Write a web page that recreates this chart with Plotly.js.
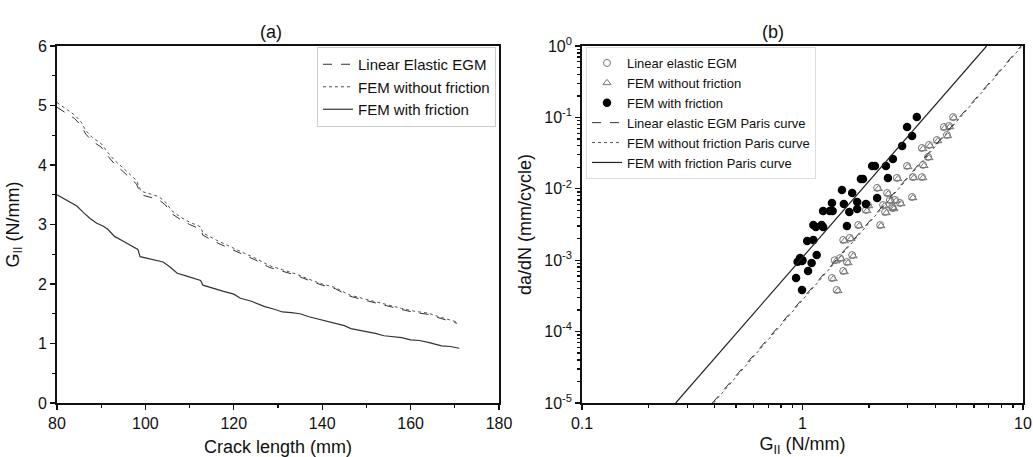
<!DOCTYPE html>
<html><head><meta charset="utf-8">
<script src="https://cdn.plot.ly/plotly-3.0.1.min.js"></script>
<style>html,body{margin:0;padding:0;background:#fff}#chart{width:1033px;height:457px}</style>
</head><body><div id="chart"></div>
<script>
// ---- Panel (a): G_II vs crack length ----
const crackLen = [80,82,84,85.5,86.5,88,90,91.5,93,94.5,96,98,99,101,103,104.5,106,108,110,112.5,113,116,119,122,125,128,131,134,137,140,143,146,149,152,155,158,161,164,166,168,170.5];
const gEGM =     [4.97,4.88,4.78,4.66,4.52,4.40,4.30,4.15,4.02,3.92,3.82,3.68,3.50,3.46,3.42,3.33,3.18,3.08,3.00,2.92,2.82,2.70,2.60,2.50,2.40,2.28,2.22,2.15,2.06,1.98,1.92,1.80,1.74,1.68,1.62,1.57,1.52,1.49,1.44,1.40,1.34];
const gFEMnoFr = [5.05,4.95,4.84,4.72,4.58,4.46,4.36,4.21,4.08,3.98,3.88,3.74,3.56,3.52,3.47,3.38,3.23,3.12,3.04,2.96,2.86,2.74,2.63,2.53,2.43,2.31,2.24,2.17,2.08,2.00,1.94,1.82,1.76,1.70,1.64,1.59,1.54,1.51,1.46,1.41,1.36];
const crackLenFr = [80,82,84.5,86,87.5,89,90.5,91.5,92,93,95,97,98.3,98.8,100,102,104,105.5,107.2,109,111,112.5,113,115,117.5,120,121.5,124,127,129,131,133,135,137,139,141,143,145,146.5,148,150,152,154,156,158,160,162,164,165.5,167,169,171];
const gFEMFr = [3.50,3.42,3.31,3.20,3.10,3.02,2.97,2.92,2.88,2.80,2.72,2.64,2.58,2.46,2.44,2.41,2.37,2.29,2.18,2.14,2.10,2.06,1.98,1.93,1.88,1.83,1.76,1.71,1.62,1.58,1.53,1.52,1.50,1.45,1.41,1.37,1.34,1.30,1.25,1.23,1.20,1.17,1.13,1.12,1.10,1.06,1.05,1.02,0.99,0.96,0.95,0.92];

// ---- Panel (b): da/dN vs G_II ----
const egmG =    [4.82,4.62,4.38,4.52,4.07,3.75,3.71,3.48,3.52,2.98,3.48,3.17,2.68,3.14,2.77,2.49,2.55,2.37,2.42,2.18,2.63,1.98,1.94,2.32,2.57,2.25,1.79,1.64,1.53,1.68,1.48,1.40,1.59,1.53,1.36,1.43];
const egmRate = [0.101,0.0758,0.0734,0.0567,0.0482,0.0411,0.0279,0.0373,0.0216,0.0209,0.0146,0.0146,0.0142,0.00768,0.00633,0.00697,0.00556,0.00473,0.00873,0.0103,0.00697,0.00593,0.00505,0.00593,0.00538,0.00311,0.00311,0.00205,0.00192,0.00118,0.00107,0.00100,0.000943,0.000706,0.000563,0.000383];
const femNoG =    [4.86,4.66,4.42,4.56,4.11,3.79,3.75,3.52,3.56,3.01,3.52,3.20,2.71,3.17,2.80,2.52,2.58,2.40,2.45,2.21,2.66,2.00,1.96,2.35,2.60,2.27,1.81,1.66,1.55,1.70,1.50,1.42,1.61,1.55,1.38,1.45];
const femNoRate = [0.098,0.0735,0.0712,0.0550,0.0468,0.0399,0.0271,0.0362,0.0210,0.0203,0.0142,0.0142,0.0138,0.00745,0.00614,0.00676,0.00539,0.00459,0.00847,0.0100,0.00676,0.00575,0.00490,0.00575,0.00522,0.00302,0.00302,0.00199,0.00186,0.00114,0.00104,0.00097,0.000915,0.000685,0.000546,0.000372];
const frG =    [3.30,2.98,3.14,2.83,2.57,2.39,2.07,2.13,2.44,1.84,1.88,1.51,1.68,1.36,1.54,1.77,2.18,1.94,1.24,1.33,1.37,1.63,1.77,1.12,1.15,1.22,1.24,1.59,1.05,1.12,1.16,0.975,0.995,1.00,1.10,1.06,0.935,0.995,0.95];
const frRate = [0.101,0.0734,0.0549,0.0397,0.0261,0.0209,0.0209,0.0209,0.0142,0.0137,0.0137,0.00962,0.00873,0.00633,0.00612,0.00653,0.00743,0.00612,0.00489,0.00489,0.00489,0.00473,0.00521,0.00311,0.00292,0.00311,0.00292,0.00301,0.00186,0.00192,0.00118,0.00107,0.000975,0.00100,0.000914,0.000706,0.000563,0.000383,0.00095];
// Paris curve end points
const parisEgmG = [0.39, 9.8];   const parisEgmRate = [1e-5, 1];
const parisNoG  = [0.395, 9.9];  const parisNoRate  = [1e-5, 1];
const parisFrG  = [0.266, 6.84]; const parisFrRate  = [1e-5, 1];

const yTickVals = [1, 0.1, 0.01, 0.001, 0.0001, 0.00001];
const yTickText = ['10<sup>0</sup>','10<sup>-1</sup>','10<sup>-2</sup>','10<sup>-3</sup>','10<sup>-4</sup>','10<sup>-5</sup>'];
const xTickVals = [0.1, 1, 10];
const xTickText = ['0.1', '1', '10'];

function minorLog(lo, hi) {
  const out = [];
  for (let e = lo; e < hi; e++) for (let k = 2; k <= 9; k++) out.push(k * Math.pow(10, e));
  return out;
}

const FONT = 'Liberation Sans, Arial, sans-serif';
const AX = '#111';
const TXT = '#111';

const traces = [
  {x: crackLen, y: gEGM, mode: 'lines', name: 'Linear Elastic EGM', line: {color: '#333', width: 1, dash: 'dash'}, xaxis: 'x', yaxis: 'y', legend: 'legend'},
  {x: crackLen, y: gFEMnoFr, mode: 'lines', name: 'FEM without friction', line: {color: '#555', width: 1, dash: 'dot'}, xaxis: 'x', yaxis: 'y', legend: 'legend'},
  {x: crackLenFr, y: gFEMFr, mode: 'lines', name: 'FEM with friction', line: {color: '#333', width: 1.2}, xaxis: 'x', yaxis: 'y', legend: 'legend'},

  {x: egmG, y: egmRate, mode: 'markers', name: 'Linear elastic EGM', marker: {symbol: 'circle-open', size: 7, color: '#777', line: {width: 1, color: '#777'}}, xaxis: 'x2', yaxis: 'y2', legend: 'legend2'},
  {x: femNoG, y: femNoRate, mode: 'markers', name: 'FEM without friction', marker: {symbol: 'triangle-up-open', size: 7, color: '#777', line: {width: 1, color: '#777'}}, xaxis: 'x2', yaxis: 'y2', legend: 'legend2'},
  {x: frG, y: frRate, mode: 'markers', name: 'FEM with friction', marker: {symbol: 'circle', size: 8.5, color: '#000'}, xaxis: 'x2', yaxis: 'y2', legend: 'legend2'},
  {x: parisEgmG, y: parisEgmRate, mode: 'lines', name: 'Linear elastic EGM Paris curve', line: {color: '#333', width: 1, dash: 'dash'}, xaxis: 'x2', yaxis: 'y2', legend: 'legend2'},
  {x: parisNoG, y: parisNoRate, mode: 'lines', name: 'FEM without friction Paris curve', line: {color: '#555', width: 1, dash: 'dot'}, xaxis: 'x2', yaxis: 'y2', legend: 'legend2'},
  {x: parisFrG, y: parisFrRate, mode: 'lines', name: 'FEM with friction Paris curve', line: {color: '#222', width: 1.2}, xaxis: 'x2', yaxis: 'y2', legend: 'legend2'}
];

const baseAxis = {
  showline: true, linecolor: AX, linewidth: 1.8, mirror: true,
  ticks: 'outside', ticklen: 5, tickwidth: 1.3, tickcolor: AX,
  showgrid: false, zeroline: false,
  tickfont: {family: FONT, size: 16, color: TXT},
  automargin: false
};
const titleFont = {family: FONT, size: 18, color: TXT};

const layout = {
  width: 1033, height: 457,
  margin: {l: 0, r: 0, t: 0, b: 0},
  paper_bgcolor: '#fff', plot_bgcolor: '#fff',
  font: {family: FONT, color: TXT},
  xaxis: Object.assign({}, baseAxis, {
    domain: [57/1033, 499/1033], anchor: 'y', range: [80, 180], dtick: 20, tick0: 80,
    minor: {dtick: 10, ticks: 'outside', ticklen: 3, tickcolor: AX},
    title: {text: 'Crack length (mm)', font: titleFont, standoff: 12}
  }),
  yaxis: Object.assign({}, baseAxis, {
    domain: [1 - 403/457, 1 - 46/457], anchor: 'x', range: [0, 6], dtick: 1,
    minor: {dtick: 0.5, ticks: 'outside', ticklen: 3, tickcolor: AX},
    title: {text: 'G<sub>II</sub> (N/mm)', font: titleFont, standoff: 14}
  }),
  xaxis2: Object.assign({}, baseAxis, {
    domain: [582/1033, 1023/1033], anchor: 'y2', type: 'log', range: [-1, 1],
    tickmode: 'array', tickvals: xTickVals, ticktext: xTickText,
    minor: {tickmode: 'array', tickvals: minorLog(-1, 1), ticks: 'outside', ticklen: 3, tickcolor: AX},
    title: {text: 'G<sub>II</sub> (N/mm)', font: titleFont, standoff: 10}
  }),
  yaxis2: Object.assign({}, baseAxis, {
    domain: [1 - 403/457, 1 - 46/457], anchor: 'x2', type: 'log', range: [-5, 0],
    tickmode: 'array', tickvals: yTickVals, ticktext: yTickText,
    minor: {tickmode: 'array', tickvals: minorLog(-5, 0), ticks: 'outside', ticklen: 3, tickcolor: AX},
    title: {text: 'da/dN (mm/cycle)', font: titleFont, standoff: 8}
  }),
  legend: {
    x: 496/1033, xanchor: 'right', y: 1 - 47/457, yanchor: 'top',
    bgcolor: '#fff', bordercolor: '#ccc', borderwidth: 1,
    font: {family: FONT, size: 15, color: TXT},
    tracegroupgap: 0, itemwidth: 30
  },
  legend2: {
    x: 586/1033, xanchor: 'left', y: 1 - 47/457, yanchor: 'top',
    bgcolor: '#fff', bordercolor: '#ddd', borderwidth: 1,
    font: {family: FONT, size: 13, color: TXT},
    tracegroupgap: 0, itemwidth: 30
  },
  showlegend: true,
  annotations: [
    {text: '(a)', x: 258/1033, y: 1 - 20/457, xref: 'paper', yref: 'paper', showarrow: false, font: {family: FONT, size: 18, color: TXT}},
    {text: '(b)', x: 786/1033, y: 1 - 20/457, xref: 'paper', yref: 'paper', showarrow: false, font: {family: FONT, size: 18, color: TXT}}
  ]
};

Plotly.newPlot('chart', traces, layout, {staticPlot: true, displayModeBar: false});
</script>
</body></html>
